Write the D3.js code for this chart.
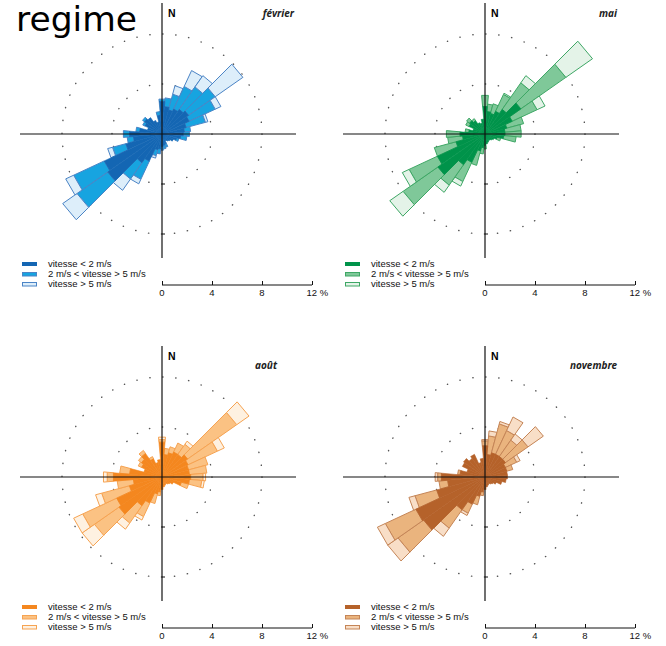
<!DOCTYPE html>
<html>
<head>
<meta charset="utf-8">
<script src="https://cdn.jsdelivr.net/npm/d3@7/dist/d3.min.js"></script>
<style>
  html, body { margin: 0; padding: 0; background: #fff; }
  svg { display: block; }
</style>
</head>
<body>
<svg id="chart" width="666" height="646"></svg>
<script>
// ---------------- DATA ----------------
const directions = d3.range(0, 360, 10); // degrees from north, clockwise
const speedClasses = ["vitesse <  2  m/s", "2 m/s < vitesse > 5 m/s", "vitesse > 5 m/s"];
const scaleTicks = [0, 4, 8, 12];
const months = ["février", "mai", "août", "novembre"];

// frequencies (%) per direction and speed class
const fevrierLow  = [2.6,2.2,2.0,2.2,2.4,2.6,2.4,2.0,1.8,1.7,1.5,1.2,1.0,0.8,0.7,0.6,0.8,0.9,1.0,1.2,1.3,2.4,2.8,5.3,5.1,3.0,2.3,2.6,1.8,1.2,1.5,1.7,1.6,1.2,1.0,1.5];
const fevrierMid  = [0.2,0.7,1.3,2.0,2.2,2.6,2.3,1.6,0.5,0.5,0.5,0.2,0,0,0,0,0.3,0.3,0.3,0.4,0.5,1.6,1.6,3.0,2.7,1.1,0.5,0.5,0.3,0,0.2,0.2,0,0,0,0.3];
const fevrierHigh = [0,0,0.7,1.4,1.1,2.7,0.5,0.2,0,0,0,0,0,0,0,0,0,0,0,0,0.2,0.4,1.1,1.4,0.7,0.4,0,0,0,0,0,0,0,0,0,0];

const maiLow  = [2.2,1.8,1.7,2.0,2.4,3.5,2.4,1.8,1.6,1.6,1.5,1.0,0.8,0.7,0.6,0.6,0.7,0.8,0.9,1.1,1.4,2.5,3.0,4.6,4.2,2.4,1.8,2.0,1.3,1.0,1.4,1.5,1.3,1.0,0.9,1.2];
const maiMid  = [0.9,0.6,0.8,1.5,2.6,4.4,2.2,1.4,1.3,1.3,1.0,0.3,0,0,0,0,0,0,0.3,0.5,1.2,1.7,2.0,3.4,2.5,1.8,1.2,1.1,0.3,0,0.3,0.3,0.2,0,0,0];
const maiHigh = [0,0,0,0.1,0.7,2.6,0.7,0,0,0,0,0,0,0,0,0,0,0,0,0,0,0.4,0.7,1.3,0.6,0,0,0,0,0,0,0,0,0,0,0];

const aoutLow  = [2.8,1.8,2.0,2.2,2.2,2.5,2.3,2.2,2.2,2.3,2.2,1.6,1.0,0.8,0.7,0.6,0.7,0.8,1.0,1.2,1.4,2.3,2.8,4.2,4.0,2.7,2.3,3.9,2.6,1.5,1.8,2.0,2.3,1.6,1.2,1.4];
const aoutMid  = [0.2,0.5,0.5,0.8,1.0,4.8,2.6,1.6,1.4,1.0,1.0,0.6,0,0,0,0,0,0,0,0.3,0.8,1.2,1.7,2.4,3.0,2.3,1.3,0.5,0.8,0,0.3,0.3,0.3,0.2,0,0];
const aoutHigh = [0.2,0,0,0,0.3,1.2,0.6,0,0,0.2,0.2,0,0,0,0,0,0,0,0,0,0,0.3,0.6,1.2,0.8,0.5,0,0.3,0,0,0,0,0,0,0,0];

const novembreLow  = [2.5,1.8,2.0,2.0,2.0,2.0,1.8,1.8,1.8,1.8,1.7,1.4,1.0,0.8,0.7,0.6,0.7,0.8,1.0,1.2,1.6,2.4,3.2,6.0,6.1,4.0,3.0,3.5,2.0,1.5,2.0,2.1,1.8,2.0,1.2,1.5];
const novembreMid  = [0.4,1.5,2.4,2.1,1.6,2.2,1.0,0.5,0,0,0,0,0,0,0,0,0,0,0,0.3,0.7,0.8,1.8,2.5,2.7,1.8,0.7,0.3,0.2,0,0,0,0,0,0,0];
const novembreHigh = [0.1,0.4,0.2,1.2,0.6,1.5,0.3,0,0,0,0,0,0,0,0,0,0,0,0,0,0,0.2,0.8,1.0,0.7,0.5,0,0.2,0,0,0,0,0,0,0,0];

// colours per month: [low, mid, high, stroke]
const fevrierColors   = ["#1466b3", "#17a4e0", "#ddeefa", "#4b84c6"];
const maiColors       = ["#00934a", "#7fc899", "#e4f3e8", "#3ea765"];
const aoutColors      = ["#f4871f", "#fbc283", "#fef1e1", "#f6a352"];
const novembreColors  = ["#b5622a", "#eab47e", "#f8dec7", "#c58557"];

// ---------------- LAYOUT ----------------
const panels = [
  {name: months[0], low: fevrierLow,  mid: fevrierMid,  high: fevrierHigh,  colors: fevrierColors,  cx: 162, cy: 134, labelX: 294, labelY: 17},
  {name: months[1], low: maiLow,      mid: maiMid,      high: maiHigh,      colors: maiColors,      cx: 485, cy: 134, labelX: 617, labelY: 17},
  {name: months[2], low: aoutLow,     mid: aoutMid,     high: aoutHigh,     colors: aoutColors,     cx: 162, cy: 477, labelX: 277, labelY: 369},
  {name: months[3], low: novembreLow, mid: novembreMid, high: novembreHigh, colors: novembreColors, cx: 485, cy: 477, labelX: 617, labelY: 369}
];

const svg = d3.select("#chart");
const r = d3.scaleLinear().domain([0, 12]).range([0, 150]);
const halfW = 5 * Math.PI / 180;

function wedgePath(angleDeg, v0, v1) {
  const a = angleDeg * Math.PI / 180;
  const r0 = r(v0), r1 = r(v1);
  const pts = [
    d3.pointRadial(a - halfW, r0),
    d3.pointRadial(a - halfW, r1),
    d3.pointRadial(a + halfW, r1),
    d3.pointRadial(a + halfW, r0)
  ];
  return "M" + pts.map(p => p[0].toFixed(2) + "," + p[1].toFixed(2)).join("L") + "Z";
}

svg.append("text")
  .attr("x", 16).attr("y", 30.5)
  .attr("font-family", "DejaVu Sans, sans-serif")
  .attr("font-size", 33)
  .attr("textLength", 121)
  .attr("lengthAdjust", "spacingAndGlyphs")
  .attr("fill", "#000")
  .text("regime");

panels.forEach(p => {
  const g = svg.append("g").attr("transform", `translate(${p.cx},${p.cy})`);

  // dotted circles
  [4, 8].forEach(v => {
    g.append("circle")
      .attr("r", r(v))
      .attr("fill", "none")
      .attr("stroke", "#555")
      .attr("stroke-width", 1.4)
      .attr("stroke-linecap", "round")
      .attr("stroke-dasharray", `0.3 ${(2 * Math.PI * r(v) / (v === 4 ? 24 : 48) - 0.3).toFixed(3)}`);
  });

  // stacked wedges
  const segs = [];
  directions.forEach((dir, i) => {
    const a = p.low[i], b = p.mid[i], c = p.high[i];
    if (a > 0) segs.push({dir, v0: 0, v1: a, k: 0});
    if (b > 0) segs.push({dir, v0: a, v1: a + b, k: 1});
    if (c > 0) segs.push({dir, v0: a + b, v1: a + b + c, k: 2});
  });
  g.selectAll("path.seg")
    .data(segs.filter(s => s.k > 0))
    .join("path")
    .attr("class", "seg")
    .attr("d", s => wedgePath(s.dir, s.v0, s.v1))
    .attr("fill", s => p.colors[s.k])
    .attr("stroke", p.colors[3])
    .attr("stroke-width", 1)
    .attr("stroke-linejoin", "round");
  g.selectAll("path.low")
    .data(segs.filter(s => s.k === 0))
    .join("path")
    .attr("class", "low")
    .attr("d", s => wedgePath(s.dir, s.v0, s.v1))
    .attr("fill", p.colors[0])
    .attr("stroke", p.colors[0])
    .attr("stroke-width", 0.6);

  // axes cross
  g.append("line").attr("x1", -142).attr("x2", 134).attr("y1", 0).attr("y2", 0)
    .attr("stroke", "#111").attr("stroke-width", 1.2);
  g.append("line").attr("x1", 0).attr("x2", 0).attr("y1", -131).attr("y2", 124)
    .attr("stroke", "#111").attr("stroke-width", 1.2);
  [4, 8].forEach(v => {
    g.append("line").attr("x1", 0).attr("x2", 3).attr("y1", r(v)).attr("y2", r(v))
      .attr("stroke", "#111").attr("stroke-width", 1);
  });

  // N label
  g.append("text").attr("x", 6).attr("y", -117)
    .attr("font-family", "Liberation Sans, Arial, sans-serif")
    .attr("font-weight", "bold").attr("font-size", 10.5)
    .text("N");

  // month label
  svg.append("text").attr("x", p.labelX).attr("y", p.labelY)
    .attr("text-anchor", "end")
    .attr("font-family", "Noto Sans, Liberation Sans, sans-serif")
    .attr("font-weight", "bold").attr("font-style", "italic").attr("font-size", 10)
    .attr("fill", "#222")
    .text(p.name);

  // scale bar
  const sb = g.append("g").attr("transform", `translate(0,${151})`);
  const sAxis = d3.axisTop(r).tickValues(scaleTicks).tickSize(4).tickFormat("");
  sb.call(sAxis);
  sb.select(".domain").attr("d", `M0,0H${r(12)}`).attr("stroke", "#111").attr("stroke-width", 1);
  sb.selectAll(".tick line").attr("stroke", "#111");
  sb.selectAll("text.lab")
    .data(scaleTicks)
    .join("text")
    .attr("class", "lab")
    .attr("x", d => d === 12 ? r(d) - 5.5 : r(d))
    .attr("y", 11)
    .attr("text-anchor", d => d === 12 ? "start" : "middle")
    .attr("font-family", "Liberation Sans, Arial, sans-serif")
    .attr("font-size", 9.5)
    .attr("fill", "#111")
    .text(d => d === 12 ? "12 %" : d);

  // legend
  const lg = g.append("g").attr("transform", `translate(-140,${128})`);
  speedClasses.forEach((txt, i) => {
    lg.append("rect")
      .attr("x", i === 0 ? 0 : 0.5).attr("y", i * 10 + (i === 0 ? 0 : 0.5))
      .attr("width", i === 0 ? 15 : 14).attr("height", i === 0 ? 4 : 3.5)
      .attr("fill", p.colors[i])
      .attr("stroke", i === 0 ? "none" : p.colors[3])
      .attr("stroke-width", 1);
    lg.append("text")
      .attr("x", 26).attr("y", i * 10 + 5)
      .attr("font-family", "Liberation Sans, Arial, sans-serif")
      .attr("font-size", 9.5)
      .attr("fill", "#111")
      .text(txt);
  });
});
</script>
</body>
</html>
